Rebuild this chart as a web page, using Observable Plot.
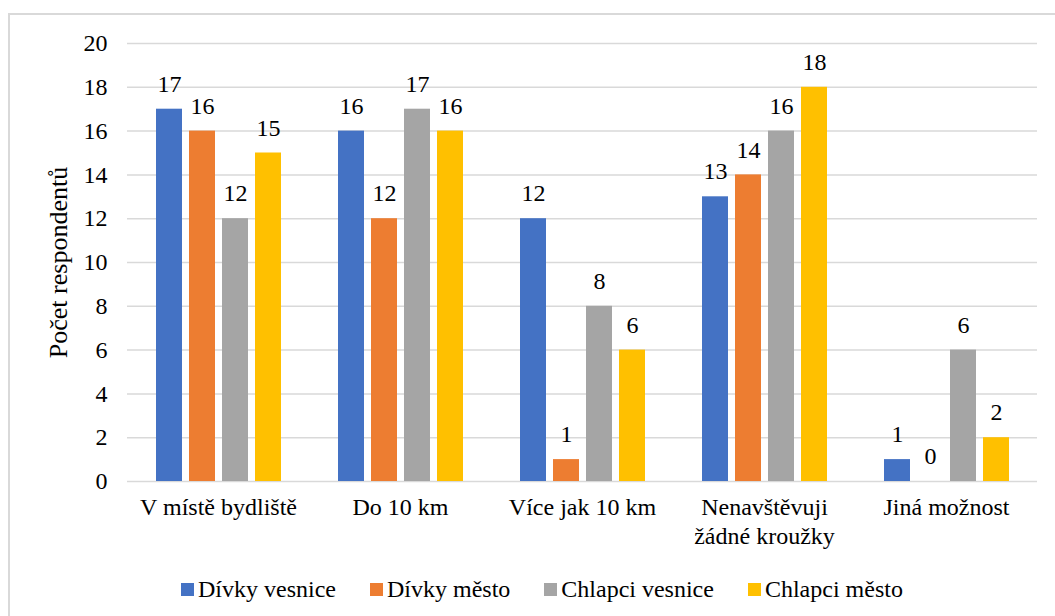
<!DOCTYPE html>
<html>
<head>
<meta charset="utf-8">
<script src="https://cdn.jsdelivr.net/npm/d3@7"></script>
<script src="https://cdn.jsdelivr.net/npm/@observablehq/plot@0.6"></script>
<style>
  html, body { margin: 0; padding: 0; background: #fff; overflow: hidden; width: 1055px; height: 616px; }
  #frame { position: absolute; left: 8px; top: 13px; width: 1100px; height: 700px; border: 2px solid #d9d9d9; box-sizing: border-box; }
  #chart { position: absolute; left: 0; top: 0; }
  #legend { position: absolute; left: 181px; top: 574px; height: 30px; display: flex; align-items: center; font-family: "Liberation Serif", serif; font-size: 24px; color: #000; }
  .item { display: flex; align-items: center; margin-right: 34px; white-space: nowrap; }
  .sw { width: 13px; height: 13px; margin-right: 4px; }
  #chart svg, #chart svg text { font-family: "Liberation Serif", serif; }
</style>
</head>
<body>
<div id="frame"></div>
<div id="chart"></div>
<div id="legend"></div>
<script>
const categories = ["V místě bydliště", "Do 10 km", "Více jak 10 km", "Nenavštěvuji\nžádné kroužky", "Jiná možnost"];
const series = ["Dívky vesnice", "Dívky město", "Chlapci vesnice", "Chlapci město"];
const colors = ["#4472C4", "#ED7D31", "#A5A5A5", "#FFC000"];
const divkyVesnice = [17, 16, 12, 13, 1];
const divkyMesto = [16, 12, 1, 14, 0];
const chlapciVesnice = [12, 17, 8, 16, 6];
const chlapciMesto = [15, 16, 6, 18, 2];
const yTicks = [0, 2, 4, 6, 8, 10, 12, 14, 16, 18, 20];

const seriesValues = [divkyVesnice, divkyMesto, chlapciVesnice, chlapciMesto];
const data = [];
categories.forEach((c, i) => {
  series.forEach((s, j) => {
    data.push({category: c, series: s, value: seriesValues[j][i]});
  });
});

const chart = Plot.plot({
  width: 1055,
  height: 560,
  marginTop: 43,
  marginBottom: 79,
  marginLeft: 125,
  marginRight: 17,
  style: {fontFamily: "'Liberation Serif', serif", fontSize: "24px", color: "#000", background: "transparent"},
  fx: {domain: categories, padding: 0},
  x: {domain: series, paddingInner: 0.22, paddingOuter: 0.84, axis: null},
  y: {domain: [0, 20], axis: null},
  color: {domain: series, range: colors},
  marks: [
    Plot.ruleY(yTicks, {stroke: "#d9d9d9", strokeWidth: 1.5}),
    Plot.axisY({ticks: yTicks, tickSize: 0, tickPadding: 20, label: null}),
    Plot.axisY({ticks: [], tickSize: 0, label: "Počet respondentů", labelAnchor: "center", labelOffset: 79, labelArrow: "none", fontSize: 26}),
    Plot.axisFx({anchor: "bottom", tickSize: 0, tickPadding: 13, lineHeight: 1.2, label: null}),
    Plot.barY(data, {fx: "category", x: "series", y: "value", fill: "series"}),
    Plot.text(data, {fx: "category", x: "series", y: "value", text: d => String(d.value), dy: -25, lineAnchor: "middle", fill: "#000"})
  ]
});
document.getElementById("chart").appendChild(chart);

const legend = document.getElementById("legend");
series.forEach((s, j) => {
  const item = document.createElement("div");
  item.className = "item";
  const sw = document.createElement("span");
  sw.className = "sw";
  sw.style.background = colors[j];
  const t = document.createElement("span");
  t.textContent = s;
  item.appendChild(sw);
  item.appendChild(t);
  legend.appendChild(item);
});
</script>
</body>
</html>
